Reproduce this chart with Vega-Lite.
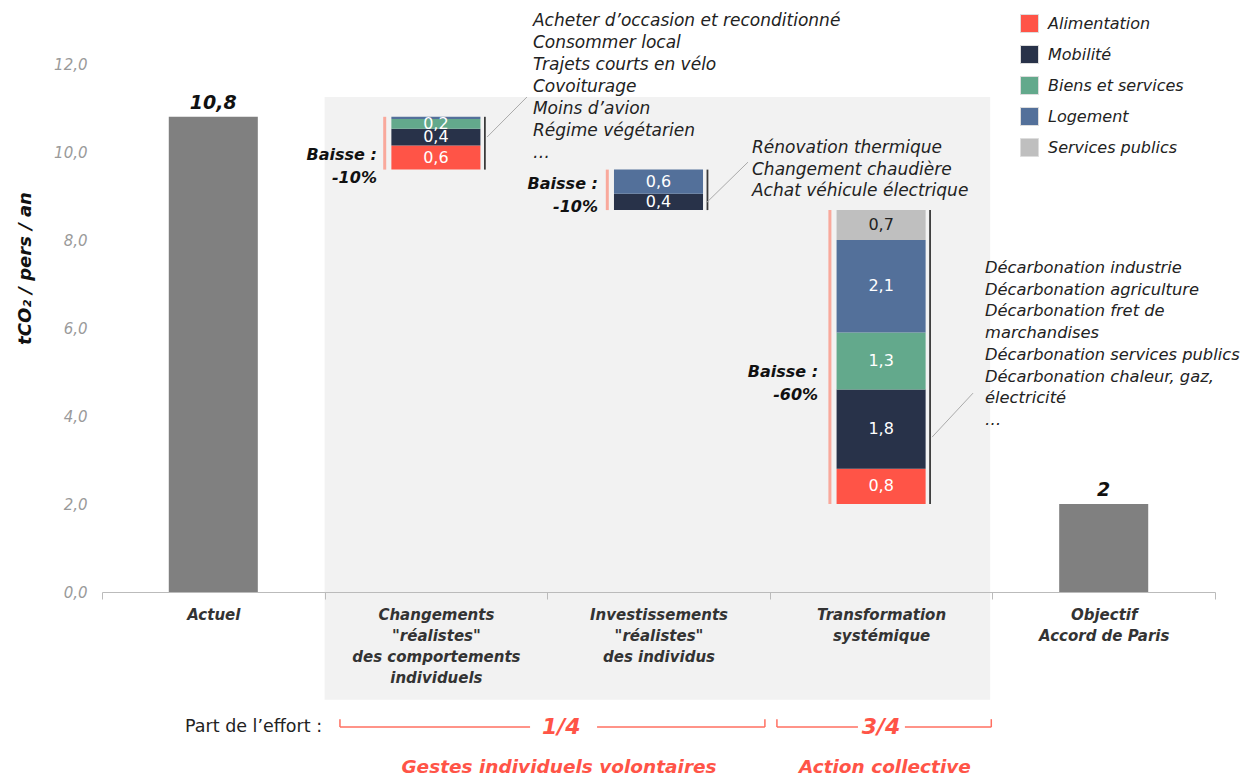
{
  "$schema": "https://vega.github.io/schema/vega-lite/v6.json",
  "width": 1113,
  "height": 528,
  "autosize": "none",
  "padding": {"left": 102, "top": 64, "right": 34, "bottom": 186},
  "background": "white",
  "config": {
    "font": "DejaVu Sans",
    "view": {"stroke": null},
    "locale": {"number": {"decimal": ",", "thousands": "\u00a0", "grouping": [3], "currency": ["", "\u00a0€"]}}
  },
  "datasets": {
    "barres": [
      {"etape": "Actuel", "composante": "Total", "valeur": 10.8, "ordre": 0},
      {"etape": "Changements\n\"réalistes\"\ndes comportements\nindividuels", "composante": "Base", "valeur": 9.6, "ordre": 0},
      {"etape": "Changements\n\"réalistes\"\ndes comportements\nindividuels", "composante": "Alimentation", "valeur": 0.55, "ordre": 1},
      {"etape": "Changements\n\"réalistes\"\ndes comportements\nindividuels", "composante": "Mobilité", "valeur": 0.38, "ordre": 2},
      {"etape": "Changements\n\"réalistes\"\ndes comportements\nindividuels", "composante": "Biens et services", "valeur": 0.22, "ordre": 3},
      {"etape": "Changements\n\"réalistes\"\ndes comportements\nindividuels", "composante": "Logement", "valeur": 0.05, "ordre": 4},
      {"etape": "Investissements\n\"réalistes\"\ndes individus", "composante": "Base", "valeur": 8.68, "ordre": 0},
      {"etape": "Investissements\n\"réalistes\"\ndes individus", "composante": "Mobilité", "valeur": 0.37, "ordre": 2},
      {"etape": "Investissements\n\"réalistes\"\ndes individus", "composante": "Logement", "valeur": 0.55, "ordre": 4},
      {"etape": "Transformation\nsystémique", "composante": "Base", "valeur": 2.0, "ordre": 0},
      {"etape": "Transformation\nsystémique", "composante": "Alimentation", "valeur": 0.8, "ordre": 1},
      {"etape": "Transformation\nsystémique", "composante": "Mobilité", "valeur": 1.8, "ordre": 2},
      {"etape": "Transformation\nsystémique", "composante": "Biens et services", "valeur": 1.3, "ordre": 3},
      {"etape": "Transformation\nsystémique", "composante": "Logement", "valeur": 2.1, "ordre": 4},
      {"etape": "Transformation\nsystémique", "composante": "Services publics", "valeur": 0.68, "ordre": 5},
      {"etape": "Objectif\nAccord de Paris", "composante": "Total", "valeur": 2, "ordre": 0}
    ],
    "etapes": [
      {"etape": "Changements\n\"réalistes\"\ndes comportements\nindividuels", "haut": 10.8, "bas": 9.6},
      {"etape": "Investissements\n\"réalistes\"\ndes individus", "haut": 9.6, "bas": 8.68},
      {"etape": "Transformation\nsystémique", "haut": 8.68, "bas": 2.0}
    ]
  },
  "data": {"values": [{}]},
  "resolve": {"scale": {"x": "independent"}},
  "layer": [
    {
      "mark": {"type": "rect", "color": "#F2F2F2"},
      "encoding": {
        "x": {"datum": 1.0, "type": "quantitative", "scale": {"domain": [0, 5]}, "axis": null},
        "x2": {"datum": 3.99},
        "y": {"datum": 11.25, "type": "quantitative", "scale": {"domain": [0, 12]}},
        "y2": {"datum": -2.45}
      }
    },
    {
      "data": {"name": "barres"},
      "mark": {"type": "bar", "width": {"band": 0.4}},
      "encoding": {
        "x": {
          "field": "etape", "type": "nominal",
          "scale": {"domain": ["Actuel", "Changements\n\"réalistes\"\ndes comportements\nindividuels", "Investissements\n\"réalistes\"\ndes individus", "Transformation\nsystémique", "Objectif\nAccord de Paris"], "paddingInner": 0, "paddingOuter": 0},
          "axis": {
            "title": null, "labelExpr": "split(datum.label, '\\n')", "labelAngle": 0,
            "labelFontSize": 15, "labelFontWeight": "bold", "labelFontStyle": "italic", "labelColor": "#333333",
            "labelLineHeight": 21, "labelPadding": 8, "labelBaseline": "top", "labelLimit": 220,
            "tickBand": "extent", "tickSize": 7, "tickColor": "#BBBBBB", "domainColor": "#BBBBBB", "zindex": 1
          }
        },
        "y": {
          "field": "valeur", "type": "quantitative", "stack": "zero",
          "scale": {"domain": [0, 12]},
          "axis": {
            "title": "tCO₂ / pers / an", "values": [0, 2, 4, 6, 8, 10, 12], "format": ".1f",
            "ticks": false, "domain": false, "grid": false,
            "labelColor": "#9A9A9A", "labelFontStyle": "italic", "labelFontSize": 15, "labelPadding": 15,
            "titleFontWeight": "bold", "titleFontStyle": "italic", "titleFontSize": 18, "titleColor": "#111111",
            "titleX": -77, "titleY": 204, "titleBaseline": "middle", "titleAlign": "center", "zindex": 1
          }
        },
        "color": {
          "field": "composante", "type": "nominal",
          "scale": {
            "domain": ["Alimentation", "Mobilité", "Biens et services", "Logement", "Services publics", "Total", "Base"],
            "range": ["#FF5447", "#283249", "#63A98C", "#53709A", "#BFBFBF", "#808080", "transparent"]
          },
          "legend": {
            "values": ["Alimentation", "Mobilité", "Biens et services", "Logement", "Services publics"],
            "title": null, "orient": "none", "legendX": 918, "legendY": -50, "padding": 0,
            "symbolType": "square", "symbolSize": 324, "symbolStrokeColor": "#DDDDDD", "symbolStrokeWidth": 1,
            "labelFontSize": 16, "labelFontStyle": "italic", "labelColor": "#222222",
            "labelOffset": 9, "rowPadding": 8
          }
        },
        "order": {"field": "ordre", "type": "quantitative"}
      }
    },
    {
      "data": {"name": "barres"},
      "mark": {"type": "text", "fontSize": 16, "baseline": "middle"},
      "encoding": {
        "x": {
          "field": "etape", "type": "nominal", "axis": null,
          "scale": {"domain": ["Actuel", "Changements\n\"réalistes\"\ndes comportements\nindividuels", "Investissements\n\"réalistes\"\ndes individus", "Transformation\nsystémique", "Objectif\nAccord de Paris"], "paddingInner": 0, "paddingOuter": 0}
        },
        "y": {"field": "valeur", "type": "quantitative", "stack": "zero", "bandPosition": 0.5, "scale": {"domain": [0, 12]}},
        "detail": {"field": "composante"},
        "order": {"field": "ordre", "type": "quantitative"},
        "text": {
          "field": "valeur", "type": "quantitative", "format": ".1f",
          "condition": {"test": "datum.valeur < 0.1 || datum.composante === 'Base' || datum.composante === 'Total'", "value": ""}
        },
        "color": {"condition": {"test": "datum.composante === 'Services publics'", "value": "#222222"}, "value": "white"}
      }
    },
    {
      "data": {"name": "barres"},
      "transform": [{"filter": "datum.composante === 'Total'"}],
      "mark": {"type": "text", "fontSize": 19, "fontWeight": "bold", "fontStyle": "italic", "baseline": "bottom", "dy": -4, "color": "#111111"},
      "encoding": {
        "x": {
          "field": "etape", "type": "nominal", "axis": null,
          "scale": {"domain": ["Actuel", "Changements\n\"réalistes\"\ndes comportements\nindividuels", "Investissements\n\"réalistes\"\ndes individus", "Transformation\nsystémique", "Objectif\nAccord de Paris"], "paddingInner": 0, "paddingOuter": 0}
        },
        "y": {"field": "valeur", "type": "quantitative", "stack": null, "scale": {"domain": [0, 12]}},
        "text": {"field": "valeur", "type": "quantitative", "format": "~g"}
      }
    },
    {
      "data": {"name": "etapes"},
      "mark": {"type": "rule", "color": "#F9A99C", "strokeWidth": 3},
      "encoding": {
        "x": {
          "field": "etape", "type": "nominal", "axis": null, "bandPosition": 0.27,
          "scale": {"domain": ["Actuel", "Changements\n\"réalistes\"\ndes comportements\nindividuels", "Investissements\n\"réalistes\"\ndes individus", "Transformation\nsystémique", "Objectif\nAccord de Paris"], "paddingInner": 0, "paddingOuter": 0}
        },
        "y": {"field": "haut", "type": "quantitative", "scale": {"domain": [0, 12]}},
        "y2": {"field": "bas"}
      }
    },
    {
      "data": {"name": "etapes"},
      "mark": {"type": "rule", "color": "#3A3A3A", "strokeWidth": 1.8},
      "encoding": {
        "x": {
          "field": "etape", "type": "nominal", "axis": null, "bandPosition": 0.72,
          "scale": {"domain": ["Actuel", "Changements\n\"réalistes\"\ndes comportements\nindividuels", "Investissements\n\"réalistes\"\ndes individus", "Transformation\nsystémique", "Objectif\nAccord de Paris"], "paddingInner": 0, "paddingOuter": 0}
        },
        "y": {"field": "haut", "type": "quantitative", "scale": {"domain": [0, 12]}},
        "y2": {"field": "bas"}
      }
    },
    {
      "mark": {"type": "text", "align": "right", "baseline": "middle", "lineHeight": 23, "fontSize": 16, "fontWeight": "bold", "fontStyle": "italic", "color": "#111111"},
      "encoding": {
        "x": {"datum": 1.235, "type": "quantitative", "scale": {"domain": [0, 5]}, "axis": null},
        "y": {"datum": 9.93, "type": "quantitative", "scale": {"domain": [0, 12]}},
        "text": {"value": ["Baisse :", "-10%"]}
      }
    },
    {
      "mark": {"type": "text", "align": "right", "baseline": "middle", "lineHeight": 23, "fontSize": 16, "fontWeight": "bold", "fontStyle": "italic", "color": "#111111"},
      "encoding": {
        "x": {"datum": 2.228, "type": "quantitative", "scale": {"domain": [0, 5]}, "axis": null},
        "y": {"datum": 9.27, "type": "quantitative", "scale": {"domain": [0, 12]}},
        "text": {"value": ["Baisse :", "-10%"]}
      }
    },
    {
      "mark": {"type": "text", "align": "right", "baseline": "middle", "lineHeight": 23, "fontSize": 16, "fontWeight": "bold", "fontStyle": "italic", "color": "#111111"},
      "encoding": {
        "x": {"datum": 3.217, "type": "quantitative", "scale": {"domain": [0, 5]}, "axis": null},
        "y": {"datum": 5.0, "type": "quantitative", "scale": {"domain": [0, 12]}},
        "text": {"value": ["Baisse :", "-60%"]}
      }
    },
    {
      "mark": {"type": "rule", "color": "#AAAAAA", "strokeWidth": 1},
      "encoding": {
        "x": {"datum": 1.73, "type": "quantitative", "scale": {"domain": [0, 5]}, "axis": null},
        "x2": {"datum": 1.909},
        "y": {"datum": 10.34, "type": "quantitative", "scale": {"domain": [0, 12]}},
        "y2": {"datum": 11.25}
      }
    },
    {
      "mark": {"type": "rule", "color": "#AAAAAA", "strokeWidth": 1},
      "encoding": {
        "x": {"datum": 2.718, "type": "quantitative", "scale": {"domain": [0, 5]}, "axis": null},
        "x2": {"datum": 2.902},
        "y": {"datum": 8.86, "type": "quantitative", "scale": {"domain": [0, 12]}},
        "y2": {"datum": 9.77}
      }
    },
    {
      "mark": {"type": "rule", "color": "#AAAAAA", "strokeWidth": 1},
      "encoding": {
        "x": {"datum": 3.729, "type": "quantitative", "scale": {"domain": [0, 5]}, "axis": null},
        "x2": {"datum": 3.913},
        "y": {"datum": 3.52, "type": "quantitative", "scale": {"domain": [0, 12]}},
        "y2": {"datum": 4.52}
      }
    },
    {
      "mark": {"type": "text", "align": "left", "baseline": "top", "fontSize": 17, "fontStyle": "italic", "lineHeight": 22, "color": "#222222"},
      "encoding": {
        "x": {"datum": 1.936, "type": "quantitative", "scale": {"domain": [0, 5]}, "axis": null},
        "y": {"datum": 13.16, "type": "quantitative", "scale": {"domain": [0, 12]}},
        "text": {"value": ["Acheter d’occasion et reconditionné", "Consommer local", "Trajets courts en vélo", "Covoiturage", "Moins d’avion", "Régime végétarien", "…"]}
      }
    },
    {
      "mark": {"type": "text", "align": "left", "baseline": "top", "fontSize": 17, "fontStyle": "italic", "lineHeight": 21.5, "color": "#222222"},
      "encoding": {
        "x": {"datum": 2.92, "type": "quantitative", "scale": {"domain": [0, 5]}, "axis": null},
        "y": {"datum": 10.27, "type": "quantitative", "scale": {"domain": [0, 12]}},
        "text": {"value": ["Rénovation thermique", "Changement chaudière", "Achat véhicule électrique"]}
      }
    },
    {
      "mark": {"type": "text", "align": "left", "baseline": "top", "fontSize": 16.3, "fontStyle": "italic", "lineHeight": 21.7, "color": "#222222"},
      "encoding": {
        "x": {"datum": 3.967, "type": "quantitative", "scale": {"domain": [0, 5]}, "axis": null},
        "y": {"datum": 7.545, "type": "quantitative", "scale": {"domain": [0, 12]}},
        "text": {"value": ["Décarbonation industrie", "Décarbonation agriculture", "Décarbonation fret de", "marchandises", "Décarbonation services publics", "Décarbonation chaleur, gaz,", "électricité", "…"]}
      }
    },
    {
      "mark": {"type": "text", "align": "left", "baseline": "middle", "fontSize": 17.5, "color": "#222222"},
      "encoding": {
        "x": {"datum": 0.373, "type": "quantitative", "scale": {"domain": [0, 5]}, "axis": null},
        "y": {"datum": -3.07, "type": "quantitative", "scale": {"domain": [0, 12]}},
        "text": {"value": "Part de l’effort :"}
      }
    },
    {
      "mark": {"type": "rule", "color": "#FF6F61", "strokeWidth": 1.5},
      "encoding": {
        "x": {"datum": 1.069, "type": "quantitative", "scale": {"domain": [0, 5]}, "axis": null},
        "x2": {"datum": 1.923},
        "y": {"datum": -3.07, "type": "quantitative", "scale": {"domain": [0, 12]}}
      }
    },
    {
      "mark": {"type": "rule", "color": "#FF6F61", "strokeWidth": 1.5},
      "encoding": {
        "x": {"datum": 2.224, "type": "quantitative", "scale": {"domain": [0, 5]}, "axis": null},
        "x2": {"datum": 2.978},
        "y": {"datum": -3.07, "type": "quantitative", "scale": {"domain": [0, 12]}}
      }
    },
    {
      "mark": {"type": "rule", "color": "#FF6F61", "strokeWidth": 1.5},
      "encoding": {
        "x": {"datum": 3.032, "type": "quantitative", "scale": {"domain": [0, 5]}, "axis": null},
        "x2": {"datum": 3.396},
        "y": {"datum": -3.07, "type": "quantitative", "scale": {"domain": [0, 12]}}
      }
    },
    {
      "mark": {"type": "rule", "color": "#FF6F61", "strokeWidth": 1.5},
      "encoding": {
        "x": {"datum": 3.607, "type": "quantitative", "scale": {"domain": [0, 5]}, "axis": null},
        "x2": {"datum": 3.995},
        "y": {"datum": -3.07, "type": "quantitative", "scale": {"domain": [0, 12]}}
      }
    },
    {
      "mark": {"type": "rule", "color": "#FF6F61", "strokeWidth": 1.5},
      "encoding": {
        "x": {"datum": 1.069, "type": "quantitative", "scale": {"domain": [0, 5]}, "axis": null},
        "y": {"datum": -3.07, "type": "quantitative", "scale": {"domain": [0, 12]}},
        "y2": {"datum": -2.89}
      }
    },
    {
      "mark": {"type": "rule", "color": "#FF6F61", "strokeWidth": 1.5},
      "encoding": {
        "x": {"datum": 2.978, "type": "quantitative", "scale": {"domain": [0, 5]}, "axis": null},
        "y": {"datum": -3.07, "type": "quantitative", "scale": {"domain": [0, 12]}},
        "y2": {"datum": -2.89}
      }
    },
    {
      "mark": {"type": "rule", "color": "#FF6F61", "strokeWidth": 1.5},
      "encoding": {
        "x": {"datum": 3.032, "type": "quantitative", "scale": {"domain": [0, 5]}, "axis": null},
        "y": {"datum": -3.07, "type": "quantitative", "scale": {"domain": [0, 12]}},
        "y2": {"datum": -2.89}
      }
    },
    {
      "mark": {"type": "rule", "color": "#FF6F61", "strokeWidth": 1.5},
      "encoding": {
        "x": {"datum": 3.995, "type": "quantitative", "scale": {"domain": [0, 5]}, "axis": null},
        "y": {"datum": -3.07, "type": "quantitative", "scale": {"domain": [0, 12]}},
        "y2": {"datum": -2.89}
      }
    },
    {
      "mark": {"type": "text", "align": "center", "baseline": "middle", "fontSize": 22, "fontWeight": "bold", "fontStyle": "italic", "color": "#FF5447"},
      "encoding": {
        "x": {"datum": 2.063, "type": "quantitative", "scale": {"domain": [0, 5]}, "axis": null},
        "y": {"datum": -3.07, "type": "quantitative", "scale": {"domain": [0, 12]}},
        "text": {"value": "1/4"}
      }
    },
    {
      "mark": {"type": "text", "align": "center", "baseline": "middle", "fontSize": 22, "fontWeight": "bold", "fontStyle": "italic", "color": "#FF5447"},
      "encoding": {
        "x": {"datum": 3.5, "type": "quantitative", "scale": {"domain": [0, 5]}, "axis": null},
        "y": {"datum": -3.07, "type": "quantitative", "scale": {"domain": [0, 12]}},
        "text": {"value": "3/4"}
      }
    },
    {
      "mark": {"type": "text", "align": "center", "baseline": "middle", "fontSize": 18.5, "fontWeight": "bold", "fontStyle": "italic", "color": "#FF5447"},
      "encoding": {
        "x": {"datum": 2.053, "type": "quantitative", "scale": {"domain": [0, 5]}, "axis": null},
        "y": {"datum": -3.98, "type": "quantitative", "scale": {"domain": [0, 12]}},
        "text": {"value": "Gestes individuels volontaires"}
      }
    },
    {
      "mark": {"type": "text", "align": "center", "baseline": "middle", "fontSize": 18.5, "fontWeight": "bold", "fontStyle": "italic", "color": "#FF5447"},
      "encoding": {
        "x": {"datum": 3.517, "type": "quantitative", "scale": {"domain": [0, 5]}, "axis": null},
        "y": {"datum": -3.98, "type": "quantitative", "scale": {"domain": [0, 12]}},
        "text": {"value": "Action collective"}
      }
    }
  ]
}
